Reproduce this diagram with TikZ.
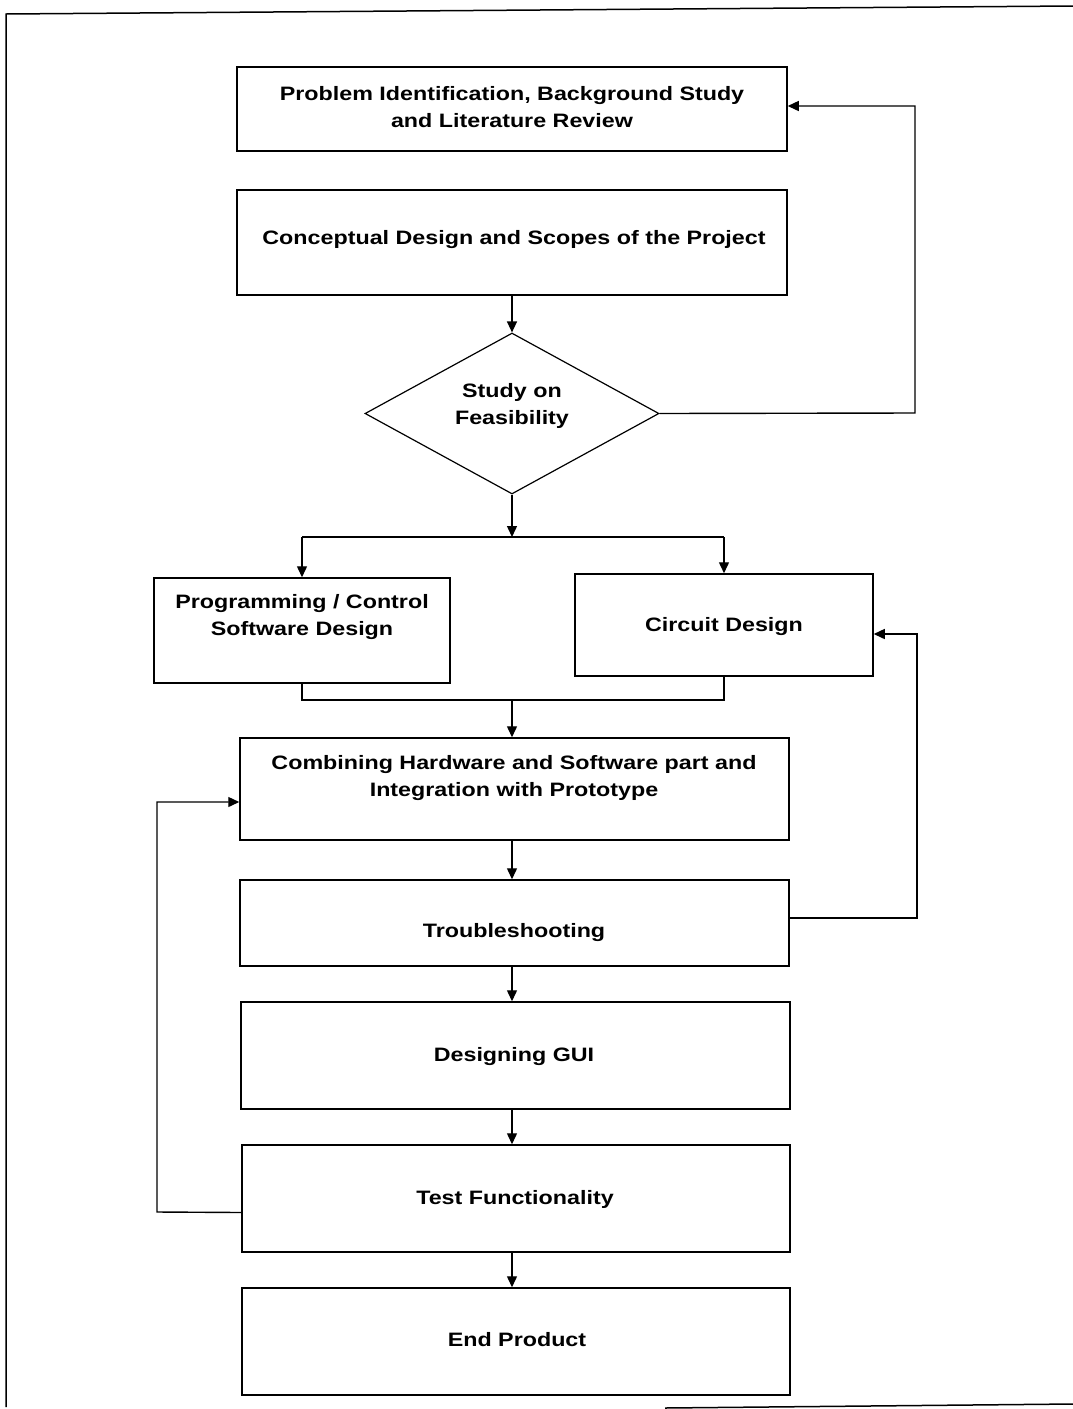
\documentclass[tikz,border=0pt]{standalone}
\usepackage{fontspec}
\setmainfont{Liberation Sans}
\newfontfamily\boxfont{Liberation Sans}[FakeStretch=1.2]
\usetikzlibrary{shapes.geometric,arrows.meta}
\begin{document}
\begin{tikzpicture}[x=1pt,y=-1pt,
  box/.style={draw,line width=1.5pt,rectangle,inner sep=0pt},
  dbox/.style={draw,line width=1.2pt,diamond,inner sep=0pt},
  txt/.style={font=\boxfont\fontsize{19.4}{27}\selectfont\bfseries,align=center,inner sep=0pt},
  conn/.style={line width=1.4pt},
  arr/.style={conn,-{Triangle[length=11pt,width=10pt]}},
  frame/.style={line width=1.5pt}]
\useasboundingbox (0,0) rectangle (1073,1409);
% outer frame (as scanned)
\draw[frame] (6,1407) -- (6,14) -- (1073,6);
\draw[frame] (665,1408) -- (1073,1404);
% boxes
\node[box,minimum width=550pt,minimum height=84pt] (b1) at (512,109) {};
\node[txt] (b1t) at (512,107) {Problem Identification, Background Study\\and Literature Review};
\node[box,minimum width=550pt,minimum height=105pt] (b2) at (512,242.5) {};
\node[txt] (b2t) at (514,240) {Conceptual Design and Scopes of the Project};
\node[dbox,minimum width=294pt,minimum height=161pt] (dia) at (512,413.5) {};
\node[txt] (diat) at (512,406) {Study on\\Feasibility};
\node[box,minimum width=296pt,minimum height=105pt] (prog) at (302,630.5) {};
\node[txt] (progt) at (302,617) {Programming / Control\\Software Design};
\node[box,minimum width=298pt,minimum height=102pt] (circ) at (724,625) {};
\node[txt] (circt) at (724,627) {Circuit Design};
\node[box,minimum width=549pt,minimum height=102pt] (comb) at (514.5,789) {};
\node[txt] (combt) at (514,778) {Combining Hardware and Software part and\\Integration with Prototype};
\node[box,minimum width=549pt,minimum height=86pt] (trouble) at (514.5,923) {};
\node[txt] (troublet) at (514,933) {Troubleshooting};
\node[box,minimum width=549pt,minimum height=107pt] (gui) at (515.5,1055.5) {};
\node[txt] (guit) at (514,1057) {Designing GUI};
\node[box,minimum width=548pt,minimum height=107pt] (test) at (516,1198.5) {};
\node[txt] (testt) at (515,1199) {Test Functionality};
\node[box,minimum width=548pt,minimum height=107pt] (endp) at (516,1341.5) {};
\node[txt] (endpt) at (517,1340) {End Product};
% helper coordinates
\coordinate (split) at (512,537);
\coordinate (merge) at (512,700);
% connectors
\draw[arr] (b2.south -| dia.north) -- (dia.north);
\draw[arr] (dia.east) -- (915,413) |- ([yshift=3pt]b1.east);
\draw[arr] (dia.south) -- (split);
\draw[conn] (split -| prog.north) -- (split -| circ.north);
\draw[arr] (split -| prog.north) -- (prog.north);
\draw[arr] (split -| circ.north) -- (circ.north);
\draw[conn] (prog.south) |- (merge) -| (circ.south);
\draw[arr] (merge) -- (merge |- comb.north);
\draw[arr] (comb.south -| merge) -- (trouble.north -| merge);
\draw[arr] (trouble.south -| merge) -- (gui.north -| merge);
\draw[arr] (gui.south -| merge) -- (test.north -| merge);
\draw[arr] (test.south -| merge) -- (endp.north -| merge);
\draw[arr] ([yshift=5pt]trouble.east) -- (917,918) |- ([yshift=-9pt]circ.east);
\draw[arr] ([yshift=-14pt]test.west) -- (157,1212) |- ([yshift=-13pt]comb.west);
\end{tikzpicture}
\end{document}
